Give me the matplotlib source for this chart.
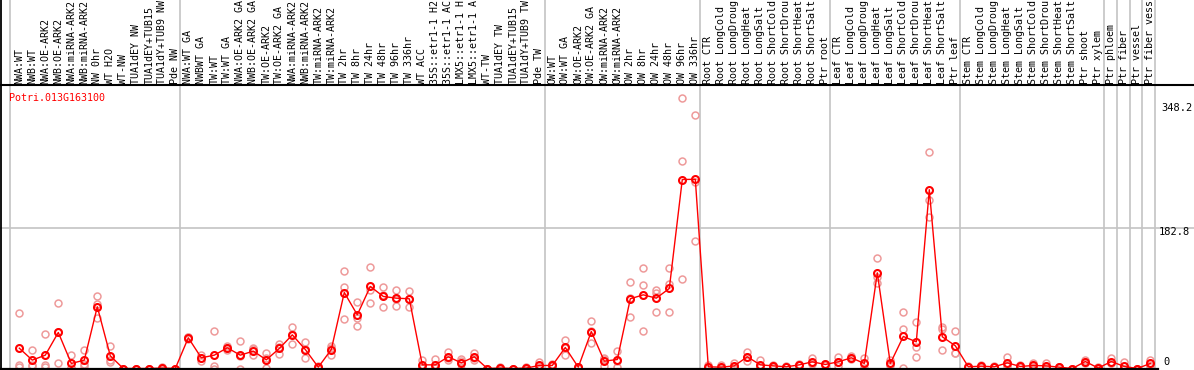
import matplotlib
matplotlib.use("Agg")
import matplotlib.pyplot as plt
import matplotlib.transforms as mtransforms

# ---------------- data ----------------
title = "Potri.013G163100"

samples = [
    "NWA:WT", "NWB:WT", "NWA:OE-ARK2", "NWB:OE-ARK2", "NWA:miRNA-ARK2", "NWB:miRNA-ARK2",
    "NW 0hr", "WT H2O", "WT-NW", "TUA1dEY NW", "TUA1dEY+TUB15", "TUA1dY+TUB9 NW", "Pde NW",
    "NWA:WT GA", "NWBWT GA", "TW:WT", "TW:WT GA", "NWA:OE-ARK2 GA", "NWB:OE-ARK2 GA",
    "TW:OE-ARK2", "TW:OE-ARK2 GA", "NWA:miRNA-ARK2", "NWB:miRNA-ARK2", "TW:miRNA-ARK2",
    "TW:miRNA-ARK2", "TW 2hr", "TW 8hr", "TW 24hr", "TW 48hr", "TW 96hr", "TW 336hr",
    "WT ACC", "35S::etr1-1 H2", "35S::etr1-1 AC", "LMX5::etr1-1 H", "LMX5::etr1-1 A",
    "WT-TW", "TUA1dEY TW", "TUA1dEY+TUB15", "TUA1dY+TUB9 TW", "Pde TW",
    "OW:WT", "OW:WT GA", "OW:OE-ARK2", "OW:OE-ARK2 GA", "OW:miRNA-ARK2", "OW:miRNA-ARK2",
    "OW 2hr", "OW 8hr", "OW 24hr", "OW 48hr", "OW 96hr", "OW 336hr",
    "Root CTR", "Root LongCold", "Root LongDroug", "Root LongHeat", "Root LongSalt",
    "Root ShortCold", "Root ShortDrou", "Root ShortHeat", "Root ShortSalt", "Ptr root",
    "Leaf CTR", "Leaf LongCold", "Leaf LongDroug", "Leaf LongHeat", "Leaf LongSalt",
    "Leaf ShortCold", "Leaf ShortDrou", "Leaf ShortHeat", "Leaf ShortSalt", "Ptr leaf",
    "Stem CTR", "Stem LongCold", "Stem LongDroug", "Stem LongHeat", "Stem LongSalt",
    "Stem ShortCold", "Stem ShortDrou", "Stem ShortHeat", "Stem ShortSalt",
    "Ptr shoot", "Ptr xylem", "Ptr phloem", "Ptr fiber", "Ptr vessel", "Ptr fiber vess",
]

means = [
    26.2, 10.8, 17.2, 46.5, 6.5, 10.8, 79.6, 16.3, 0.0, 0.0, 0.0, 0.6, 0.0,
    39.6, 13.8, 17.2, 26.7, 17.2, 22.4, 11.2, 25.8, 43.4, 24.5, 1.7, 24.5,
    98.0, 69.2, 105.8, 92.9, 90.7, 89.9, 4.7, 4.7, 15.1, 7.3, 15.1, 0.0,
    0.6, 0.0, 0.6, 3.9, 3.9, 27.1, 1.7, 47.7, 9.5, 11.6, 89.9, 95.0, 90.7,
    103.2, 243.7, 244.0, 2.2, 1.7, 3.4, 15.1, 4.7, 3.4, 2.2, 4.7, 8.6, 5.2,
    8.6, 13.8, 6.5, 123.4, 6.5, 41.3, 34.4, 230.6, 40.9, 29.3, 2.2, 3.0,
    2.2, 7.3, 2.6, 3.9, 3.4, 1.7, 0.0, 9.0, 0.6, 9.0, 2.6, 0.0, 6.5,
]

rep1 = [
    72.0, 24.5, 45.0, 84.7, 17.6, 23.7, 93.8, 28.4, 0.0, 0.0, 0.0, 1.5, 0.0,
    38.0, 18.0, 49.0, 24.0, 36.0, 25.8, 19.4, 31.0, 53.8, 34.4, 3.0, 28.8,
    126.0, 86.0, 130.3, 104.5, 101.5, 100.2, 11.2, 12.0, 21.0, 12.0, 20.2, 0.0,
    1.5, 0.0, 1.5, 8.6, 6.0, 36.5, 2.5, 61.5, 13.3, 22.4, 111.8, 129.0, 100.6,
    129.0, 348.2, 326.5, 4.0, 4.7, 6.5, 21.0, 10.8, 5.0, 3.5, 6.0, 13.3, 6.0,
    14.6, 15.9, 13.3, 141.9, 11.6, 72.3, 60.6, 279.6, 53.8, 48.1, 3.5, 4.5,
    3.5, 14.6, 4.0, 6.9, 6.5, 2.5, 0.0, 10.8, 1.5, 13.3, 9.0, 0.0, 11.6,
]

rep2 = [
    4.7, 3.0, 4.7, 7.3, 0.7, 3.0, 82.6, 9.0, 0.0, 0.0, 0.0, 0.3, 0.0,
    40.0, 9.5, 3.0, 27.0, 0.0, 16.8, 1.0, 18.5, 31.8, 13.8, 1.0, 18.0,
    105.0, 64.5, 101.5, 79.6, 80.9, 79.6, 2.0, 1.0, 10.8, 0.0, 11.6, 0.0,
    0.3, 0.0, 0.3, 1.5, 3.0, 17.6, 1.0, 33.1, 3.0, 2.2, 66.7, 108.0, 73.5,
    108.8, 268.0, 164.8, 1.5, 0.5, 2.0, 9.5, 2.0, 2.5, 1.5, 4.0, 6.0, 4.5,
    3.0, 12.0, 0.6, 110.6, 4.0, 51.2, 27.5, 217.7, 50.3, 20.2, 1.5, 2.0,
    1.5, 3.0, 2.0, 2.5, 2.0, 1.0, 0.0, 7.5, 0.3, 6.5, 0.0, 0.0, 3.5,
]

rep3 = [
    1.5, 5.0, 1.9, 47.5, 1.0, 5.7, 65.4, 11.5, 0.0, 0.0, 0.0, 0.0, 0.0,
    41.0, 14.0, 0.0, 29.0, 15.6, 24.6, 13.0, 28.0, 44.6, 25.0, 1.0, 26.7,
    63.2, 55.0, 84.7, 94.6, 89.7, 90.0, 1.0, 1.0, 13.5, 10.0, 13.5, 0.0,
    0.0, 0.0, 0.0, 1.5, 2.7, 27.0, 1.5, 48.5, 12.0, 10.0, 91.0, 48.6, 98.0,
    72.6, 115.0, 240.7, 1.0, 0.0, 1.7, 15.0, 1.3, 2.7, 1.6, 4.0, 6.5, 5.0,
    8.2, 13.5, 5.6, 117.7, 4.0, 0.6, 15.1, 195.7, 24.5, 19.5, 1.6, 2.5,
    1.6, 4.3, 1.8, 2.3, 1.7, 1.6, 0.0, 8.7, 0.0, 7.2, 0.0, 0.0, 4.4,
]

ytick_values = [0, 182.8, 348.2]
ytick_labels = ["0", "182.8", "348.2"]
group_breaks = [-0.69, 12.38, 40.42, 52.38, 62.38, 72.38, 83.42, 84.42, 85.42, 86.38, 87.38]

# ---------------- layout ----------------
W, H = 1194, 370
DPI = 100
X0 = 19.3        # pixel x of first sample
DX = 13.0        # pixel spacing of samples
Y0 = 368.5       # pixel y of value zero (from top)
SY = 0.7755      # pixels per unit

fig = plt.figure(figsize=(W / DPI, H / DPI), dpi=DPI)
fig.patch.set_facecolor("white")
ax = fig.add_axes([0, 0, 1, 1])
ax.set_xlim(-X0 / DX, (W - X0) / DX)
ax.set_ylim(-(H - Y0) / SY, Y0 / SY)
ax.axis("off")

def fy(px):
    return 1 - px / H

def fx(px):
    return px / W

FONT = "DejaVu Sans Mono"
FS = 7.2
GREY = "#c4c4c4"
PINK = "#ee9a9a"
RED = "#ff0000"

trans_xdata = mtransforms.blended_transform_factory(ax.transData, ax.transAxes)

# grey separators (full height)
for b in group_breaks:
    ax.plot([b, b], [0, 1], transform=trans_xdata, color=GREY, lw=1.2, zorder=1,
            solid_capstyle="butt")

# grey horizontal reference line at middle tick
ax.plot([0, 1], [fy(228), fy(228)], transform=ax.transAxes, color=GREY, lw=1.2, zorder=1)

# black frame lines
ax.plot([fx(1), fx(1)], [0, 1], transform=ax.transAxes, color="black", lw=1.3, zorder=5)
ax.plot([0, 1], [fy(85), fy(85)], transform=ax.transAxes, color="black", lw=1.5, zorder=5)
ax.plot([0, fx(1158)], [fy(369), fy(369)], transform=ax.transAxes, color="black", lw=1.6, zorder=5)

# sample labels (rotated, in header)
xs = list(range(len(samples)))
for i, s in enumerate(samples):
    ax.text(i, fy(83.5), s, transform=trans_xdata, rotation=90, ha="center", va="bottom",
            fontsize=FS, family=FONT, color="black", clip_on=False)

# replicate points
for rep in (rep1, rep2, rep3):
    ax.plot(xs, rep, linestyle="none", marker="o", markersize=5.0, markerfacecolor="none",
            markeredgecolor=PINK, markeredgewidth=1.1, zorder=3)

# mean line and markers
ax.plot(xs, means, color=RED, lw=1.0, marker="o", markersize=5.0, markerfacecolor="none",
        markeredgecolor=RED, markeredgewidth=1.5, zorder=4)

# title
fig.text(fx(9.5), fy(101), title, ha="left", va="baseline", fontsize=FS,
         family=FONT, color=RED)

# right-side value labels
tick_px = {"348.2": (1161, 108), "182.8": (1159, 232), "0": (1163, 362)}
for v, lab in zip(ytick_values, ytick_labels):
    px, py = tick_px[lab]
    fig.text(fx(px), fy(py), lab, ha="left", va="center", fontsize=FS + 0.3,
             family=FONT, color="black")

fig.savefig("out.png", dpi=DPI, facecolor="white")
